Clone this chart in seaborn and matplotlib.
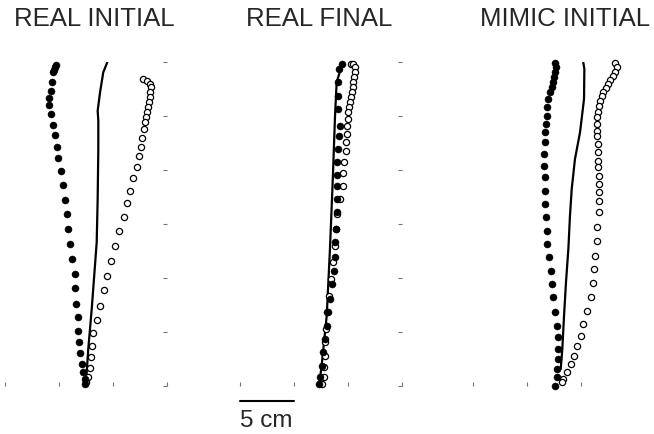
import numpy as np
import pandas as pd
import seaborn as sns
import matplotlib
matplotlib.use("Agg")
import matplotlib.pyplot as plt

# hand paths in cm (x across, y forward)
titles = ["REAL INITIAL", "REAL FINAL", "MIMIC INITIAL"]

# REAL INITIAL
ri_fill_x = [4.72, 4.66, 4.57, 4.47, 4.38, 4.23, 4.10, 4.10, 4.23, 4.42, 4.66, 4.79, 4.91, 5.19, 5.34,
             5.56, 5.77, 5.86, 6.05, 6.20, 6.45, 6.51, 6.57, 6.73, 6.79, 6.88, 6.94, 7.10, 7.25, 7.41, 7.41]
ri_fill_y = [29.72, 29.50, 29.29, 29.05, 28.12, 27.34, 26.64, 26.02, 25.19, 24.17, 23.24, 22.16, 21.11, 19.91, 18.61,
             17.25, 15.95, 14.54, 13.15, 11.76, 10.37, 9.05, 7.62, 6.39, 5.12, 4.05, 3.06, 2.04, 1.27, 0.65, 0.19]
ri_line_x = [9.47, 9.10, 8.80, 8.58, 8.64, 8.64, 8.58, 8.49, 8.33, 8.03, 7.71, 7.50]
ri_line_y = [29.97, 29.05, 27.19, 25.49, 24.56, 21.94, 17.31, 13.31, 11.14, 7.13, 3.43, 0.34]
ri_open_x = [12.81, 13.12, 13.43, 13.50, 13.43, 13.43, 13.36, 13.27, 13.12, 13.06, 13.00, 12.87, 12.69, 12.56, 12.43,
             12.19, 11.88, 11.57, 11.32, 11.02, 10.56, 10.19, 9.79, 9.42, 9.20, 8.80, 8.49, 8.18, 8.06, 8.00,
             7.87, 7.69, 7.50]
ri_open_y = [28.43, 28.27, 27.96, 27.66, 27.19, 26.73, 26.27, 25.80, 25.34, 24.88, 24.41, 23.80, 22.94, 22.16, 21.27,
             20.28, 19.29, 18.08, 16.91, 15.62, 14.35, 12.96, 11.60, 10.21, 8.86, 7.44, 6.14, 4.88, 3.73, 2.71,
             1.64, 0.80, 0.34]

# REAL FINAL
rf_fill_x = [9.42, 9.20, 9.10, 9.10, 9.10, 9.26, 9.20, 9.10, 8.95, 8.95, 9.01, 8.95, 9.01, 8.91, 8.84,
             8.75, 8.69, 8.54, 8.33, 8.18, 8.03, 7.87, 7.72, 7.56, 7.41, 7.34]
rf_fill_y = [29.81, 29.35, 28.12, 26.88, 25.65, 24.11, 23.18, 21.94, 20.71, 19.54, 18.55, 17.31, 16.08, 14.54, 13.31,
             11.92, 10.68, 9.44, 8.06, 6.82, 5.58, 4.35, 3.12, 1.88, 0.80, 0.19]
rf_line_x = [9.51, 8.95, 8.80, 8.58, 8.33, 8.03, 7.56, 7.34]
rf_line_y = [29.97, 28.12, 25.03, 18.86, 12.69, 6.51, 1.88, 0.19]
rf_open_x = [10.25, 10.49, 10.65, 10.65, 10.56, 10.49, 10.44, 10.34, 10.25, 10.19, 10.12, 10.03, 9.97, 9.94, 9.88,
             9.79, 9.79, 9.63, 9.57, 9.57, 9.26, 9.01, 8.89, 8.80, 8.64, 8.40, 8.21, 8.09, 7.96, 7.90,
             7.87, 7.81, 7.78, 7.56]
rf_open_y = [29.81, 29.81, 29.51, 29.05, 28.58, 28.12, 27.66, 27.19, 26.73, 26.27, 25.80, 25.34, 24.72, 24.11, 23.33,
             22.56, 21.79, 20.71, 19.72, 18.55, 17.31, 15.93, 14.54, 12.99, 11.45, 9.90, 8.36, 6.82, 5.28, 4.04,
             2.81, 1.73, 0.80, 0.19]

# MIMIC INITIAL
mi_fill_x = [7.59, 7.69, 7.59, 7.50, 7.44, 7.28, 7.13, 6.98, 6.88, 6.82, 6.76, 6.67, 6.67, 6.60, 6.60,
             6.67, 6.67, 6.67, 6.73, 6.82, 6.88, 7.04, 7.19, 7.31, 7.44, 7.59, 7.75, 7.90, 7.90, 7.90,
             7.81, 7.75, 7.59]
mi_fill_y = [29.91, 29.51, 29.05, 28.58, 28.12, 27.66, 27.19, 26.57, 25.80, 25.03, 24.26, 23.49, 22.56, 21.48, 20.40,
             19.32, 18.08, 16.85, 15.62, 14.38, 13.15, 11.91, 10.68, 9.44, 8.21, 6.82, 5.59, 4.51, 3.43, 2.50,
             1.57, 0.80, 0.03]
mi_line_x = [10.21, 10.31, 10.28, 9.91, 9.44, 9.14, 8.98, 8.83, 8.61, 8.43, 8.27, 8.12]
mi_line_y = [29.97, 29.35, 26.57, 23.49, 21.00, 18.24, 15.77, 12.69, 9.60, 6.51, 3.43, 1.57]
mi_open_x = [13.15, 13.30, 13.15, 12.94, 12.69, 12.53, 12.31, 12.07, 11.92, 11.76, 11.67, 11.60, 11.51, 11.51, 11.51,
             11.51, 11.55, 11.55, 11.57, 11.60, 11.67, 11.64, 11.67, 11.64, 11.64, 11.51, 11.45, 11.30, 11.20, 11.08,
             10.90, 10.53, 10.21, 9.97, 9.60, 9.38, 9.05, 8.68, 8.36, 8.21]
mi_open_y = [29.91, 29.51, 29.10, 28.73, 28.36, 27.96, 27.56, 27.19, 26.82, 26.42, 25.95, 25.40, 24.88, 24.26, 23.64,
             23.12, 22.41, 21.64, 20.86, 20.25, 19.47, 18.70, 17.93, 17.16, 16.08, 14.69, 13.45, 12.07, 10.83, 9.51,
             8.21, 6.97, 5.74, 4.66, 3.73, 2.81, 2.04, 1.27, 0.65, 0.34]

panels = [
    (ri_fill_x, ri_fill_y, ri_line_x, ri_line_y, ri_open_x, ri_open_y),
    (rf_fill_x, rf_fill_y, rf_line_x, rf_line_y, rf_open_x, rf_open_y),
    (mi_fill_x, mi_fill_y, mi_line_x, mi_line_y, mi_open_x, mi_open_y),
]
x_ticks = [[0, 5, 10, 15], [0, 5, 10, 15], [0, 5, 10]]
y_ticks = [0, 5, 10, 15, 20, 25, 30]

sns.set_style("white")
plt.rcParams['font.family'] = ['Liberation Sans', 'DejaVu Sans']

W, H = 654, 435
fig = plt.figure(figsize=(W / 100, H / 100), dpi=100)

left_px = [5, 240, 473]
title_px = [94, 319, 565]
px_per_cm = 10.8

for i, (fx, fy, lx, ly, ox, oy) in enumerate(panels):
    ax = fig.add_axes([left_px[i] / W, (H - 387) / H, 15 * px_per_cm / W, 30 * px_per_cm / H])

    sns.lineplot(x=lx, y=ly, sort=False, estimator=None, color='black', lw=1.6, ax=ax)
    sns.scatterplot(x=ox, y=oy, marker='o', s=20, facecolor='white', edgecolor='black',
                    linewidth=0.9, ax=ax, clip_on=False, zorder=3)
    sns.scatterplot(x=fx, y=fy, marker='o', s=26, color='black', edgecolor='black',
                    linewidth=0.3, ax=ax, clip_on=False, zorder=4)

    ax.set_xlim(0, 15)
    ax.set_ylim(0, 30)
    for s in ax.spines.values():
        s.set_visible(False)
    ax.set_xticks(x_ticks[i])
    ax.set_xticklabels([])
    if i < 2:
        ax.yaxis.tick_right()
        ax.set_yticks(y_ticks)
    else:
        ax.set_yticks([])
    ax.set_yticklabels([])
    ax.tick_params(axis='both', length=3, width=0.8, color='0.45', direction='in',
                   bottom=True, left=False)

    fig.text(title_px[i] / W, 1 - 19 / H, titles[i], ha='center', va='center', fontsize=18.5)

    if i == 1:
        # scale bar
        ax.plot([0, 5], [-1.36, -1.36], color='black', lw=1.5, clip_on=False)
        ax.text(2.45, -3.15, "5 cm", ha='center', va='center', fontsize=17.5)

fig.savefig("out.png", dpi=100)
